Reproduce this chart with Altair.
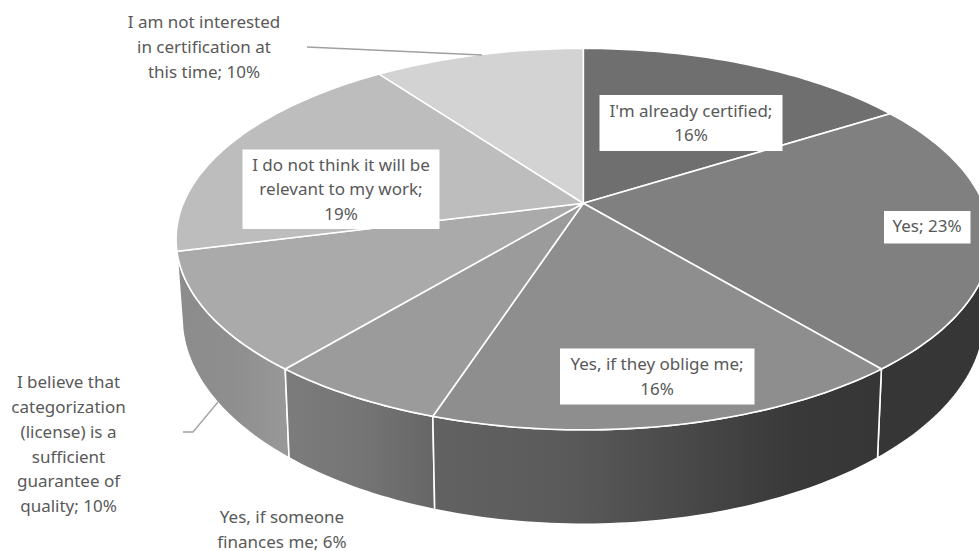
import math

import altair as alt

# Survey answers, clockwise from twelve o'clock.
answers = [
    "I'm already certified",
    "Yes",
    "Yes, if they oblige me",
    "Yes, if someone finances me",
    "I believe that categorization (license) is a sufficient guarantee of quality",
    "I do not think it will be relevant to my work",
    "I am not interested in certification at this time",
]
shares = [16, 23, 16, 6, 10, 19, 10]

top_colors = ["#6f6f6f", "#808080", "#8e8e8e", "#9b9b9b", "#aaaaaa", "#bdbdbd", "#d3d3d3"]

# Rim shading of each slice as (offset, colour) stops running from screen left to right.
side_colors = [
    [(0, "#363636"), (1, "#363636")],
    [(0, "#363636"), (1, "#363636")],
    [(0, "#626262"), (0.3, "#5a5a5a"), (0.8, "#393939"), (1, "#363636")],
    [(0, "#7c7c7c"), (0.5, "#757575"), (1, "#666666")],
    [(0, "#8c8c8c"), (0.5, "#8e8e8e"), (1, "#999999")],
    [(0, "#a0a0a0"), (1, "#a0a0a0")],
    [(0, "#a0a0a0"), (1, "#a0a0a0")],
]

label_lines = [
    "I'm already certified;\n16%",
    "Yes; 23%",
    "Yes, if they oblige me;\n16%",
    "Yes, if someone\nfinances me; 6%",
    "I believe that\ncategorization\n(license) is a\nsufficient\nguarantee of\nquality; 10%",
    "I do not think it will be\nrelevant to my work;\n19%",
    "I am not interested\nin certification at\nthis time; 10%",
]

# Centre of each label's first line on the canvas, in the same order as the answers.
label_x = [691, 927, 657, 282, 68.5, 341, 204]
label_y = [111.7, 227, 365, 518, 383.3, 165.7, 23.3]

# White plates behind the labels that sit on the pie: left, right, top, bottom.
plates = [
    (599.5, 782.5, 95, 151),
    (884, 970.5, 211, 243.5),
    (560, 754.5, 348.5, 404.5),
    (242.5, 439.5, 149.5, 229),
]

# Leader line paths for the two outside labels that carry one.
leaders = [
    [(307, 47), (482, 55)],
    [(183, 432), (193, 432), (218, 402)],
]

WIDTH, HEIGHT = 979, 551

# Perspective disc parameters: top face and bottom face of the pie.
TOP = dict(cx=583.3, cy=203.3, rx=400.0, ry=184.0, k=0.1877)
BOTTOM = dict(cx=583.3, cy=277.7, rx=394.0, ry=199.7, k=0.19)


def rim_point(disc, degrees):
    a = math.radians(degrees)
    u, v = math.sin(a), -math.cos(a)
    w = 1 - disc["k"] * v
    return [disc["cx"] + disc["rx"] * u / w, disc["cy"] + disc["ry"] * v / w]


def arc(disc, start, end):
    steps = max(2, int(abs(end - start)))
    return [rim_point(disc, start + (end - start) * i / steps) for i in range(steps + 1)]


def polygon(ring, fill):
    feature = {
        "type": "Feature",
        "properties": {},
        "geometry": {"type": "Polygon", "coordinates": [ring + [ring[0]]]},
    }
    return (
        alt.Chart(alt.InlineData(values=[feature]))
        .mark_geoshape(fill=fill, stroke="#ffffff", strokeWidth=1.6)
        .project(type="identity", scale=1, translate=[0, 0])
    )


def side_fill(stops):
    return alt.Gradient(
        gradient="linear",
        x1=0, x2=1, y1=0, y2=0,
        stops=[alt.GradientStop(offset=o, color=c) for o, c in stops],
    )


edges = [0.0]
for share in shares:
    edges.append(edges[-1] + share * 360.0 / sum(shares))

# Back slices first so the nearer rim panels paint over them.
draw_order = [5, 6, 0, 1, 4, 3, 2]
side_layers = []
for i in draw_order:
    upper = arc(TOP, edges[i], edges[i + 1])
    lower = arc(BOTTOM, edges[i], edges[i + 1])
    side_layers.append(polygon(upper + lower[::-1], side_fill(side_colors[i])))

top_layers = []
for i in range(len(shares)):
    ring = [[TOP["cx"], TOP["cy"]]] + arc(TOP, edges[i], edges[i + 1])
    top_layers.append(polygon(ring, top_colors[i]))

x_scale = alt.Scale(domain=[0, WIDTH], range=[0, WIDTH])
y_scale = alt.Scale(domain=[0, HEIGHT], range=[0, HEIGHT])
x_enc = alt.X("x:Q", scale=x_scale, axis=None)
y_enc = alt.Y("y:Q", scale=y_scale, axis=None)

plate_layer = (
    alt.Chart(alt.Data(values=[{"x": p[0], "x2": p[1], "y": p[2], "y2": p[3]} for p in plates]))
    .mark_rect(fill="#ffffff")
    .encode(x=x_enc, x2="x2:Q", y=y_enc, y2="y2:Q")
)

leader_rows = [
    {"x": px, "y": py, "line": n, "step": s}
    for n, path in enumerate(leaders)
    for s, (px, py) in enumerate(path)
]
leader_layer = (
    alt.Chart(alt.Data(values=leader_rows))
    .mark_line(color="#a0a0a0", strokeWidth=1.3)
    .encode(x=x_enc, y=y_enc, detail="line:N", order="step:Q")
)

text_rows = [
    {"x": x, "y": y, "label": t, "answer": a}
    for x, y, t, a in zip(label_x, label_y, label_lines, answers)
]
text_layer = (
    alt.Chart(alt.Data(values=text_rows))
    .mark_text(
        font="Noto Sans",
        fontSize=17,
        color="#595959",
        align="center",
        baseline="middle",
        lineBreak="\n",
        lineHeight=24.8,
    )
    .encode(x=x_enc, y=y_enc, text="label:N")
)

chart = (
    alt.layer(*side_layers, *top_layers, leader_layer, plate_layer, text_layer)
    .properties(width=WIDTH, height=HEIGHT, padding=0, background="#ffffff", autosize=alt.AutoSizeParams(type="none"))
    .configure_view(stroke=None)
)

chart.save("out.html", embed_options={"renderer": "svg", "actions": False})
